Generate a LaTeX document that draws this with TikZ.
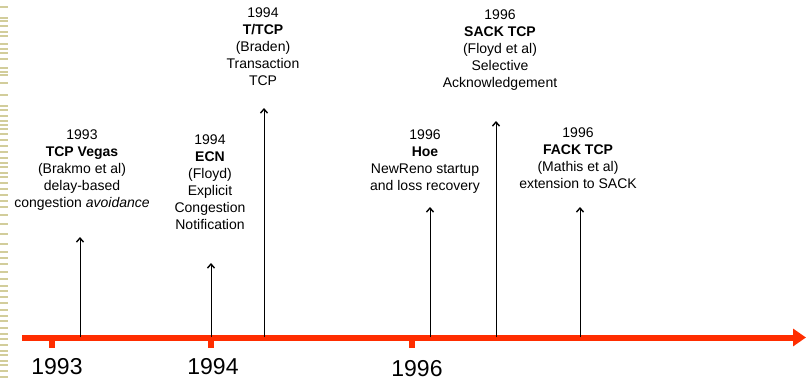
\documentclass[tikz,border=0pt]{standalone}
\usepackage{fontspec}
\setmainfont{Liberation Sans}
\usetikzlibrary{arrows.meta}
\definecolor{axisred}{RGB}{255,45,0}
\definecolor{stripe}{RGB}{210,205,155}
\tikzset{
  event/.style={align=center, inner sep=0pt, anchor=north,
    font=\fontsize{14}{16.9}\selectfont},
  yearlabel/.style={inner sep=0pt, font=\fontsize{23}{26}\selectfont},
  rise/.style={line width=1pt, -{Straight Barb[length=4pt,width=7pt,line width=1.4pt]}},
  axis/.style={line width=6pt, axisred, -{Triangle[length=13pt,width=17pt]}},
  tickmark/.style={fill=axisred, draw=none}
}
\begin{document}
\begin{tikzpicture}[x=1pt, y=-1pt]
  \useasboundingbox (0,0) rectangle (806,381);
  % striped margin on the left
  \foreach \yy in {6,17,20,25,31,35,43,48,52,58,67,71,74,82,94,105,109,115,120,124,128,133,139,145,151,157,162,166,172,176,182,188,194,200,206,214,223,233,243,251,257,263,271,278,285,290,296,302,309,315,320,327,333,338,344,350,354,360,364,370,376}
    \fill[stripe] (0,\yy) rectangle (8,\yy+2);

  % time axis
  \coordinate (axL) at (22,337.5);
  \coordinate (axR) at (806,337.5);
  \draw[axis] (axL) -- (axR);
  \fill[tickmark] (49,337) rectangle (55,348);
  \fill[tickmark] (208,337) rectangle (214,348);
  \fill[tickmark] (409,337) rectangle (415,348);

  \node[yearlabel] (y93) at (57,367) {1993};
  \node[yearlabel] (y94) at (213,367) {1994};
  \node[yearlabel] (y96) at (417,368.5) {1996};

  % events
  \node[event] (vegas) at (82,130) {1993\\\textbf{TCP Vegas}\\(Brakmo et al)\\delay-based\\congestion \textit{avoidance}};
  \node[event] (ecn) at (210,135) {1994\\\textbf{ECN}\\(Floyd)\\Explicit\\Congestion\\Notification};
  \node[event] (ttcp) at (263,8) {1994\\\textbf{T/TCP}\\(Braden)\\Transaction\\TCP};
  \node[event] (hoe) at (425,130) {1996\\\textbf{Hoe}\\NewReno startup\\and loss recovery};
  \node[event] (sack) at (500,10) {1996\\\textbf{SACK TCP}\\(Floyd et al)\\Selective\\Acknowledgement};
  \node[event] (fack) at (578,128) {1996\\\textbf{FACK TCP}\\(Mathis et al)\\extension to SACK};

  % arrows rising from the axis
  \foreach \name/\xx/\tip in {vegas/80/237, ecn/211/263, ttcp/264/108, hoe/430/207, sack/496/121, fack/580/207} {
    \coordinate (\name-base) at (\xx,337);
    \coordinate (\name-tip) at (\xx,\tip);
    \draw[rise] (\name-base) -- (\name-tip);
  }
\end{tikzpicture}
\end{document}
